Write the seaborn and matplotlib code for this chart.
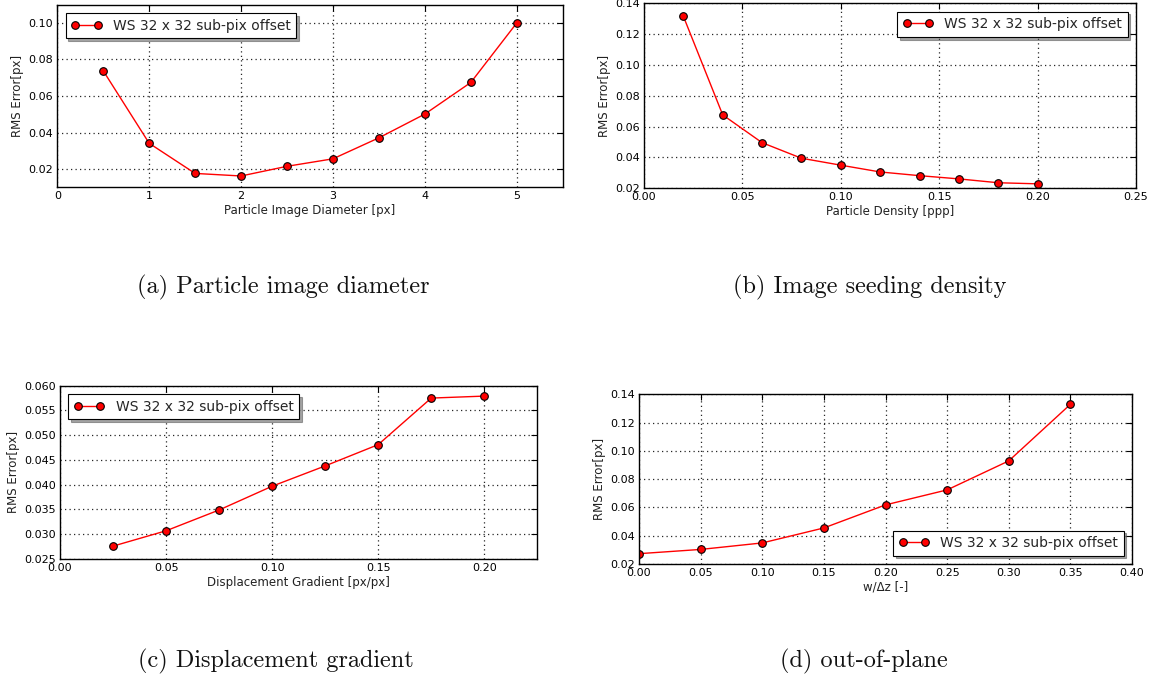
import matplotlib
matplotlib.use("Agg")
import matplotlib.pyplot as plt
import seaborn as sns
import pandas as pd
from matplotlib.ticker import FormatStrFormatter

# --- data -------------------------------------------------------------
diameter_px = [0.5, 1.0, 1.5, 2.0, 2.5, 3.0, 3.5, 4.0, 4.5, 5.0]
rms_diameter = [0.0738, 0.0341, 0.0176, 0.0162, 0.0215, 0.0256, 0.0371, 0.0501, 0.0674, 0.1000]

density_ppp = [0.02, 0.04, 0.06, 0.08, 0.10, 0.12, 0.14, 0.16, 0.18, 0.20]
rms_density = [0.1316, 0.0676, 0.0496, 0.0395, 0.0350, 0.0306, 0.0282, 0.0261, 0.0236, 0.0229]

gradient = [0.025, 0.050, 0.075, 0.100, 0.125, 0.150, 0.175, 0.200]
rms_gradient = [0.0276, 0.0307, 0.0349, 0.0397, 0.0438, 0.0481, 0.0575, 0.0579]

out_of_plane = [0.00, 0.05, 0.10, 0.15, 0.20, 0.25, 0.30, 0.35]
rms_out_of_plane = [0.0273, 0.0303, 0.0349, 0.0455, 0.0618, 0.0724, 0.0929, 0.1329]

series_label = "WS 32 x 32 sub-pix offset"
y_label = "RMS Error[px]"
captions = ["(a) Particle image diameter", "(b) Image seeding density",
            "(c) Displacement gradient", "(d) out-of-plane"]

# --- style ------------------------------------------------------------
sns.set_style("white")
plt.rcParams.update({
    "font.family": ["DejaVu Sans"],
    "xtick.direction": "in", "ytick.direction": "in",
    "xtick.top": True, "ytick.right": True,
    "xtick.major.size": 4, "ytick.major.size": 4,
    "xtick.color": "black", "ytick.color": "black",
    "xtick.labelsize": 8, "ytick.labelsize": 8,
    "axes.edgecolor": "black", "axes.linewidth": 1.0,
    "axes.labelsize": 8.5, "axes.labelcolor": "#222222",
})

W, H = 1158, 682
fig = plt.figure(figsize=(W / 100, H / 100), dpi=100)


def add_axes(left, right, top, bottom):
    return fig.add_axes([left / W, (H - bottom) / H, (right - left) / W, (bottom - top) / H])


def draw(ax, x, y, xlabel, xlim, ylim, xticks, yticks, legend_loc):
    df = pd.DataFrame({"x": x, "y": y})
    sns.lineplot(data=df, x="x", y="y", ax=ax, color="red", linewidth=1.0,
                 marker="o", markersize=5.5, markerfacecolor="red",
                 markeredgecolor="black", markeredgewidth=0.8,
                 label=series_label)
    ax.set_xlim(*xlim)
    ax.set_ylim(*ylim)
    ax.set_xticks(xticks)
    ax.set_yticks(yticks)
    ax.set_xlabel(xlabel, labelpad=2)
    ax.set_ylabel(y_label, labelpad=3)
    ax.grid(True, color="0.15", linestyle=(0, (1, 2.6)), linewidth=0.9)
    ax.tick_params(which="both", pad=3)
    for s in ax.spines.values():
        s.set_visible(True)
        s.set_color("black")
    leg = ax.legend(loc=legend_loc, numpoints=2, shadow=True, fancybox=False,
                    fontsize=10, framealpha=1, edgecolor="black",
                    handlelength=2.2, borderpad=0.4, borderaxespad=0.6)
    leg.get_frame().set_linewidth(0.8)


ax_a = add_axes(57.3, 562.7, 4.7, 187.3)
draw(ax_a, diameter_px, rms_diameter, "Particle Image Diameter [px]",
     (0, 5.5), (0.01, 0.11), [0, 1, 2, 3, 4, 5],
     [0.02, 0.04, 0.06, 0.08, 0.10], "upper left")

ax_b = add_axes(644, 1136, 3.3, 188.3)
draw(ax_b, density_ppp, rms_density, "Particle Density [ppp]",
     (0, 0.25), (0.02, 0.14), [0.0, 0.05, 0.10, 0.15, 0.20, 0.25],
     [0.02, 0.04, 0.06, 0.08, 0.10, 0.12, 0.14], "upper right")

ax_c = add_axes(60, 537.3, 385.7, 559)
draw(ax_c, gradient, rms_gradient, "Displacement Gradient [px/px]",
     (0, 0.225), (0.025, 0.060), [0.0, 0.05, 0.10, 0.15, 0.20],
     [0.025, 0.030, 0.035, 0.040, 0.045, 0.050, 0.055, 0.060], "upper left")

ax_d = add_axes(639, 1132, 394.3, 564)
draw(ax_d, out_of_plane, rms_out_of_plane, "w/\u0394z [-]",
     (0, 0.40), (0.02, 0.14), [0.0, 0.05, 0.10, 0.15, 0.20, 0.25, 0.30, 0.35, 0.40],
     [0.02, 0.04, 0.06, 0.08, 0.10, 0.12, 0.14], "lower right")

# number formats on the tick labels
ax_a.yaxis.set_major_formatter(FormatStrFormatter("%.2f"))
ax_a.xaxis.set_major_formatter(FormatStrFormatter("%d"))
for ax in (ax_b, ax_d):
    ax.xaxis.set_major_formatter(FormatStrFormatter("%.2f"))
    ax.yaxis.set_major_formatter(FormatStrFormatter("%.2f"))
ax_c.xaxis.set_major_formatter(FormatStrFormatter("%.2f"))
ax_c.yaxis.set_major_formatter(FormatStrFormatter("%.3f"))

# sub-figure captions
cap_pos = [(283, 287), (870, 287), (276, 661), (864, 661)]
cap_size = [17.5, 17.5, 17.5, 17.5]
for (cx, cy), size, text in zip(cap_pos, cap_size, captions):
    fig.text(cx / W, 1 - cy / H, text, ha="center", va="center",
             fontsize=size, family=["cmr10", "DejaVu Serif"], color="#111111")

fig.savefig("out.png", dpi=100)
